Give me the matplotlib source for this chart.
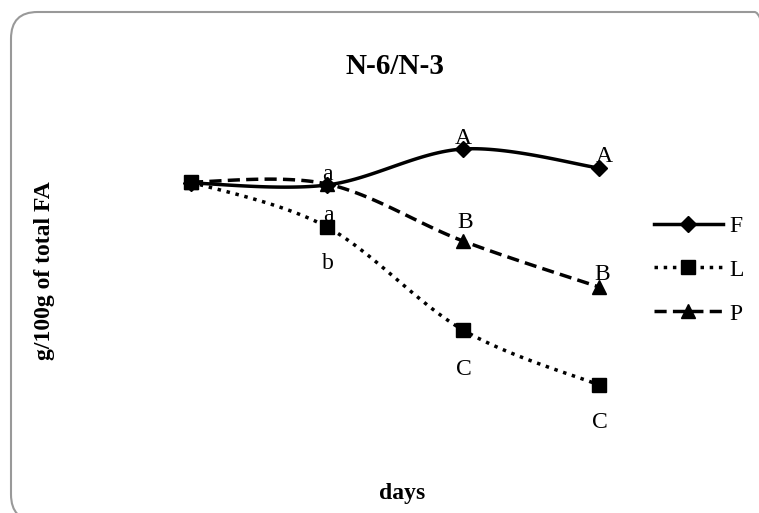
import matplotlib.pyplot as plt
import numpy as np
from matplotlib.lines import Line2D
from matplotlib.patches import FancyBboxPatch

# data (no axis ticks in the original, arbitrary units)
days = [1, 2, 3, 4]
f_vals = [3.17, 3.15, 3.51, 3.32]
l_vals = [3.18, 2.73, 1.70, 1.15]
p_vals = [3.18, 3.16, 2.59, 2.13]

# significance letters: (series, point index, text, dx px, dy px)
letters = [
    ("F", 1, "a", 0, 10),
    ("L", 1, "a", 1, 11),
    ("L", 1, "b", 1, -37),
    ("F", 2, "A", 0, 10),
    ("F", 3, "A", 5, 11),
    ("P", 2, "B", 2, 18),
    ("P", 3, "B", 3, 12),
    ("L", 2, "C", 1, -40),
    ("L", 3, "C", 1, -37),
]

plt.rcParams['font.family'] = ['Liberation Serif', 'DejaVu Serif']


def smooth(x, y, n=40):
    # catmull-rom through the points, like excel's smoothed line
    pts = np.column_stack([x, y]).astype(float)
    pts = np.vstack([pts[0], pts, pts[-1]])
    out = []
    for i in range(1, len(pts) - 2):
        p0, p1, p2, p3 = pts[i - 1], pts[i], pts[i + 1], pts[i + 2]
        t = np.linspace(0, 1, n)[:, None]
        seg = 0.5 * ((2 * p1) + (-p0 + p2) * t + (2 * p0 - 5 * p1 + 4 * p2 - p3) * t ** 2
                     + (-p0 + 3 * p1 - 3 * p2 + p3) * t ** 3)
        out.append(seg)
    out = np.vstack(out)
    return out[:, 0], out[:, 1]


fig = plt.figure(figsize=(7.59, 5.13), dpi=100)
ax = fig.add_axes([123 / 759, 1 - 420 / 513, 544 / 759, 310 / 513])

series = {
    "F": (f_vals, '-', 'D', 8, None),
    "L": (l_vals, ':', 's', 10, None),
    "P": (p_vals, '--', '^', 10, (3.5, 1.8)),
}

handles = []
for name, (vals, ls, mk, ms, dash) in series.items():
    sx, sy = smooth(days, vals)
    line, = ax.plot(sx, sy, ls=ls, color='black', linewidth=2.5)
    if dash:
        line.set_dashes(dash)
    ax.plot(days, vals, ls='none', marker=mk, markersize=ms, color='black')
    h = Line2D([], [], ls=ls, color='black', linewidth=2.5, marker=mk, markersize=ms)
    if dash:
        h.set_dashes(dash)
    handles.append(h)

vals_by = {"F": f_vals, "L": l_vals, "P": p_vals}
for name, i, txt, dx, dy in letters:
    ax.annotate(txt, (days[i], vals_by[name][i]), xytext=(dx, dy), textcoords='offset pixels',
                ha='center', va='center', fontsize=17)

ax.set_xlim(0.5, 4.5)
ax.set_ylim(0.8, 3.9)
ax.axis('off')

fig.legend(handles, ["F", "L", "P"], loc='center left', bbox_to_anchor=(633 / 759, 1 - 270 / 513),
           frameon=False, fontsize=17, handlelength=2.9, labelspacing=0.95, handletextpad=0.3)

fig.text(395 / 759, 1 - 67 / 513, "N-6/N-3", ha='center', va='center', fontsize=21, fontweight='bold')
fig.text(45 / 759, 1 - 271 / 513, "g/100g of total FA", ha='center', va='center', rotation=90,
         fontsize=17, fontweight='bold')
fig.text(402 / 759, 1 - 494 / 513, "days", ha='center', va='center', fontsize=17, fontweight='bold')

# rounded frame round the whole chart
frame = FancyBboxPatch((11 / 759, -8 / 513), 770 / 759, 509 / 513,
                       boxstyle="round,pad=0,rounding_size=0.035", transform=fig.transFigure,
                       facecolor='none', edgecolor='#999999', linewidth=1.5, mutation_aspect=759 / 513)
fig.patches.append(frame)

plt.savefig('out.png', dpi=100)
